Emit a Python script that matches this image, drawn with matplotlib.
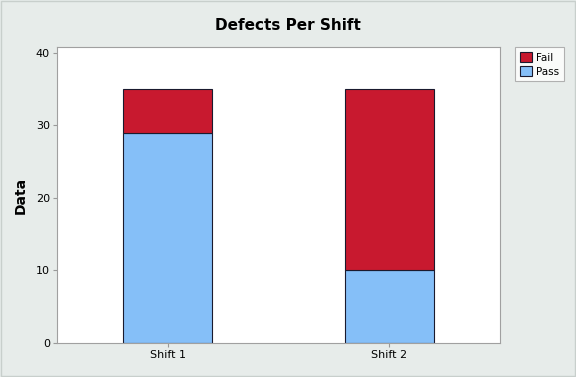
import matplotlib
matplotlib.use("Agg")
from matplotlib import pyplot as plt

# data
shifts = ["Shift 1", "Shift 2"]
pass_counts = [29, 10]
fail_counts = [6, 25]

bg = "#e7ecea"
fail_color = "#c8192f"
pass_color = "#85bff8"

fig = plt.figure(figsize=(5.76, 3.77), dpi=100, facecolor=bg)
ax = fig.add_axes([57 / 576, 1 - 343 / 377, (500 - 57) / 576, (343 - 47) / 377])

x = range(1, len(shifts) + 1)
b_pass = ax.bar(x, pass_counts, width=0.4, color=pass_color, edgecolor="#1a1a2e", linewidth=0.8, label="Pass")
b_fail = ax.bar(x, fail_counts, width=0.4, bottom=pass_counts, color=fail_color,
                edgecolor="#1a1a2e", linewidth=0.8, label="Fail")

ax.set_xlim(0.5, 2.5)
ax.set_ylim(0, 40.8)
ax.set_yticks([0, 10, 20, 30, 40])
ax.set_xticks(list(x), shifts)
ax.tick_params(labelsize=8, length=3, color="#999999", pad=2)
for s in ax.spines.values():
    s.set_color("#a0a0a0")
    s.set_linewidth(0.8)

ax.set_ylabel("Data", fontsize=10, fontweight="bold", labelpad=6)
fig.text(0.5, 1 - 25 / 377, "Defects Per Shift", ha="center", va="center",
         fontsize=11, fontweight="bold")

leg = fig.legend([b_fail, b_pass], ["Fail", "Pass"], loc="upper left",
                 bbox_to_anchor=(515 / 576, 1 - 47 / 377), fontsize=7.5,
                 frameon=True, fancybox=False, edgecolor="#a0a0a0",
                 handlelength=1.2, handleheight=1.2, handletextpad=0.4,
                 borderpad=0.45, labelspacing=0.3, borderaxespad=0)
leg.get_frame().set_linewidth(0.8)

fig.patches.append(plt.Rectangle((0.001, 0.002), 0.997, 0.996, transform=fig.transFigure,
                                 fill=False, edgecolor="#c8cfcc", linewidth=1))

plt.savefig("out.png", dpi=100, facecolor=bg)
